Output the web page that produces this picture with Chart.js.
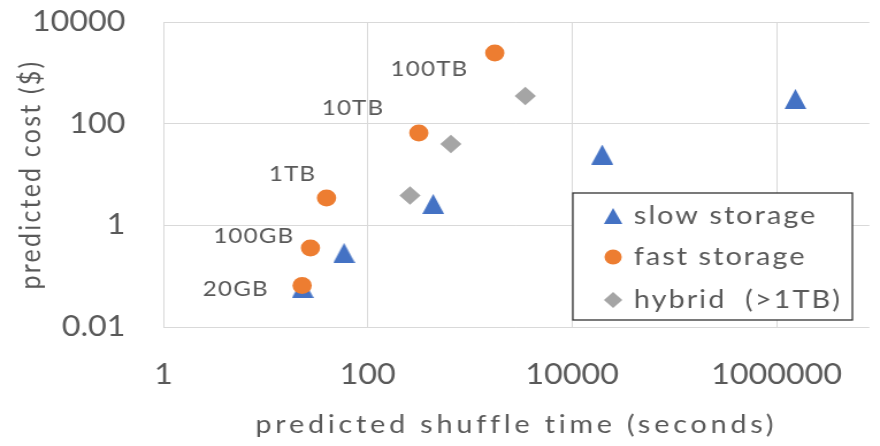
<!DOCTYPE html>
<html>
<head>
<meta charset="utf-8">
<script src="https://cdn.jsdelivr.net/npm/chart.js@4.4.1/dist/chart.umd.min.js"></script>
<style>
    html, body { margin: 0; padding: 0; background: #fff; overflow: hidden; }
    #wrap { width: 880px; height: 446px; overflow: hidden; }
    /* the original picture is slightly stretched sideways */
    #costChart { display: block; transform: scaleX(1.1503); transform-origin: 0 0; }
</style>
</head>
<body>
<div id="wrap"><canvas id="costChart" width="765" height="446"></canvas></div>
<script>
var sizes = ['20GB', '100GB', '1TB', '10TB', '100TB'];

var slowTime = [23.1, 58.6, 437, 19700, 1530000];
var slowCost = [0.0585, 0.285, 2.63, 24.7, 305];

var fastTime = [22.8, 27.5, 39.5, 316, 1750];
var fastCost = [0.0655, 0.358, 3.45, 65.5, 2455];

var hybridTime = [259, 651, 3480];
var hybridCost = [3.86, 39.8, 350];

var xTicks = [1, 100, 10000, 1000000];
var yTicks = [0.01, 1, 100, 10000];

var textColor = '#595959';
var gridColor = '#d9d9d9';
var blue = '#4472C4', orange = '#ED7D31', grey = '#A5A5A5';

// offsets of the size labels from the fast storage points
var labelOffsets = [[-29, 4], [-14, -12], [-9, -24], [-30, -25], [-23, 16]];
// letter spacing of the axis titles
var titleSpacing = { x: '3.3px', y: '2.2px' };

function pairs(xs, ys) {
    return xs.map(function(x, i) { return {x: x, y: ys[i]}; });
}

function triangleMarker(w, h, color) {
    var c = document.createElement('canvas');
    c.width = w;
    c.height = h;
    var g = c.getContext('2d');
    g.fillStyle = color;
    g.beginPath();
    g.moveTo(w / 2, 0);
    g.lineTo(w, h);
    g.lineTo(0, h);
    g.closePath();
    g.fill();
    return c;
}

var tri = triangleMarker(19, 20, blue);
var triSmall = triangleMarker(16, 16, blue);

var spacedTitles = {
    id: 'spacedTitles',
    beforeDraw: function(chart) {
        Object.keys(chart.scales).forEach(function(id) {
            var s = chart.scales[id];
            if (s._spaced) return;
            var orig = s.drawTitle;
            s.drawTitle = function() {
                this.ctx.save();
                this.ctx.letterSpacing = titleSpacing[id] || '0px';
                orig.apply(this, arguments);
                this.ctx.restore();
            };
            s._spaced = true;
        });
    }
};

var sizeLabels = {
    id: 'sizeLabels',
    afterDatasetsDraw: function(chart) {
        var meta = chart.getDatasetMeta(1);
        var ctx = chart.ctx;
        ctx.save();
        ctx.font = '21px Lato';
        ctx.letterSpacing = '1px';
        ctx.fillStyle = textColor;
        ctx.textAlign = 'right';
        ctx.textBaseline = 'middle';
        meta.data.forEach(function(pt, i) {
            ctx.fillText(sizes[i], pt.x + labelOffsets[i][0], pt.y + labelOffsets[i][1]);
        });
        ctx.restore();
    }
};

var boxLegend = {
    id: 'boxLegend',
    afterDraw: function(chart) {
        var ctx = chart.ctx;
        var bx = 498, by = 193, bw = 243, bh = 127;
        var rows = [216, 257, 300];
        var mx = 533, tx = 551;
        ctx.save();
        ctx.fillStyle = '#fff';
        ctx.fillRect(bx, by, bw, bh);
        ctx.strokeStyle = '#333';
        ctx.lineWidth = 1.3;
        ctx.strokeRect(bx, by, bw, bh);

        ctx.drawImage(triSmall, mx - 8, rows[0] - 8);

        ctx.fillStyle = orange;
        ctx.beginPath();
        ctx.arc(mx, rows[1], 7.5, 0, Math.PI * 2);
        ctx.fill();

        ctx.fillStyle = grey;
        ctx.beginPath();
        ctx.moveTo(mx - 8, rows[2]);
        ctx.lineTo(mx, rows[2] - 8);
        ctx.lineTo(mx + 8, rows[2]);
        ctx.lineTo(mx, rows[2] + 8);
        ctx.closePath();
        ctx.fill();

        ctx.font = '25px Lato';
        ctx.letterSpacing = '1.8px';
        ctx.fillStyle = textColor;
        ctx.textAlign = 'left';
        ctx.textBaseline = 'middle';
        chart.data.datasets.forEach(function(ds, i) {
            ctx.fillText(ds.label, tx, rows[i]);
        });
        ctx.restore();
    }
};

window.onload = function() {
    var ctx = document.getElementById('costChart').getContext('2d');
    Chart.defaults.font.family = 'Lato';

    var costChart = new Chart(ctx, {
        type: 'scatter',
        data: {
            datasets: [{
                label: 'slow storage',
                data: pairs(slowTime, slowCost),
                pointStyle: tri,
                backgroundColor: blue,
                borderWidth: 0,
                order: 2
            }, {
                label: 'fast storage',
                data: pairs(fastTime, fastCost),
                pointStyle: 'circle',
                pointRadius: 8.4,
                backgroundColor: orange,
                borderWidth: 0,
                order: 1
            }, {
                label: 'hybrid  (>1TB)',
                data: pairs(hybridTime, hybridCost),
                pointStyle: 'rectRot',
                pointRadius: 9.2,
                backgroundColor: grey,
                borderWidth: 0,
                order: 3
            }]
        },
        options: {
            responsive: false,
            animation: false,
            events: [],
            layout: { padding: { top: 22, left: 0, right: 0, bottom: 0 } },
            plugins: {
                legend: { display: false },
                tooltip: { enabled: false }
            },
            scales: {
                x: {
                    type: 'logarithmic',
                    min: 1,
                    max: 8.1e6,
                    afterBuildTicks: function(scale) {
                        scale.ticks = xTicks.map(function(v) { return {value: v}; });
                    },
                    afterFit: function(scale) {
                        scale.height = 119;
                        scale.paddingLeft = 0;
                        scale.paddingRight = 0;
                    },
                    ticks: {
                        callback: function(v) { return String(v); },
                        font: { size: 28 },
                        color: textColor,
                        padding: 31,
                        maxRotation: 0,
                        autoSkip: false
                    },
                    grid: { color: gridColor, lineWidth: 1, drawTicks: false },
                    border: { display: false },
                    title: {
                        display: true,
                        text: 'predicted shuffle time (seconds)',
                        font: { size: 25 },
                        color: textColor,
                        padding: { top: 0, bottom: 6 }
                    }
                },
                y: {
                    type: 'logarithmic',
                    min: 0.01,
                    max: 10000,
                    afterBuildTicks: function(scale) {
                        scale.ticks = yTicks.map(function(v) { return {value: v}; });
                    },
                    afterFit: function(scale) {
                        scale.width = 142;
                        scale.paddingTop = 0;
                        scale.paddingBottom = 0;
                    },
                    ticks: {
                        callback: function(v) { return String(v); },
                        font: { size: 28 },
                        color: textColor,
                        padding: 33,
                        autoSkip: false
                    },
                    grid: { color: gridColor, lineWidth: 1, drawTicks: false },
                    border: { display: false },
                    title: {
                        display: true,
                        text: 'predicted cost ($)',
                        font: { size: 25 },
                        color: textColor,
                        padding: { top: 12, bottom: 0 }
                    }
                }
            }
        },
        plugins: [spacedTitles, sizeLabels, boxLegend]
    });
};
</script>
</body>
</html>
